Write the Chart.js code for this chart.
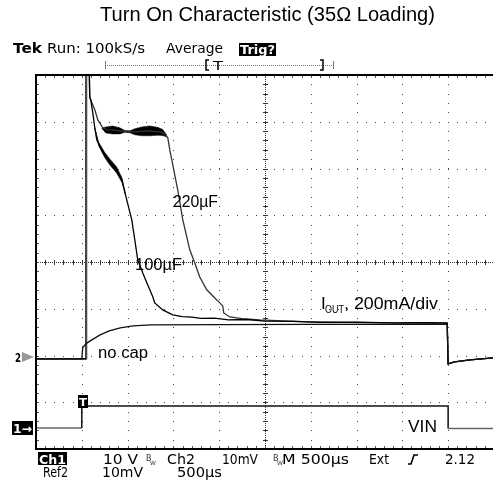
<!DOCTYPE html>
<html>
<head>
<meta charset="utf-8">
<script src="https://cdn.jsdelivr.net/npm/chart.js@4.4.1/dist/chart.umd.min.js"></script>
<style>
  html, body { margin: 0; padding: 0; background: #fff; }
  #scope { display: block; }
</style>
</head>
<body>
<canvas id="scope" width="493" height="483"></canvas>
<script>
// time in ms (500 µs/div, trigger at 0), Ch2 current in mA (200 mA/div), Ch1 VIN in V (10 V/div)
const timeNoCap = [-0.5, 0, 0.01, 0.05, 0.11, 0.2, 0.3, 0.42, 0.56, 0.75, 1.5, 2.5, 3.99, 4.0, 4.07, 4.24, 4.49];
const currentNoCap = [-8, -8, 40, 58, 73, 94, 111, 124, 133, 137, 138, 139, 140, -30, -21, -13, -4];

const time100 = [-0.5, 0.04, 0.045, 0.07, 0.087, 0.098, 0.12, 0.142, 0.164, 0.207, 0.251, 0.306, 0.382, 0.437,
  0.491, 0.546, 0.579, 0.611, 0.666, 0.71, 0.775, 0.797, 0.884, 0.993, 1.1, 1.2, 1.3, 1.45, 1.6, 1.8, 2.0,
  2.3, 2.6, 3.0, 3.4, 3.8, 3.99, 4.0, 4.07, 4.24, 4.49];
const current100 = [-8, -8, 1400, 1400, 1112, 1099, 1044, 980, 928, 894, 864, 834, 800, 757,
  672, 586, 500, 415, 359, 317, 257, 231, 201, 180, 172, 170, 165, 166, 158, 160, 153,
  152, 148, 149, 146, 147, 145, -30, -21, -13, -4];

const time220 = [-0.5, 0.05, 0.055, 0.076, 0.087, 0.098, 0.142, 0.175, 0.229, 0.284, 0.338, 0.415, 0.502,
  0.579, 0.72, 0.852, 0.906, 0.939, 0.961, 0.983, 1.015, 1.048, 1.103, 1.179, 1.234, 1.288, 1.365, 1.452,
  1.507, 1.539, 1.55, 1.616, 1.75, 1.94, 2.2, 2.5, 2.9, 3.4, 3.99, 4.0, 4.07, 4.24, 4.49];
const current220 = [-8, -8, 1400, 1400, 1112, 1099, 1057, 1014, 980, 971, 971, 967, 963,
  963, 967, 963, 954, 937, 886, 843, 779, 714, 586, 458, 402, 342, 287, 252,
  231, 218, 188, 171, 164, 158, 154, 150, 148, 146, 145, -30, -21, -13, -4];

// noisy (thick) stretches of the averaged traces: upper / lower edges
const band100Time = [0.142, 0.185, 0.25, 0.31, 0.38, 0.44, 0.48];
const band100Upper = [980, 918, 875, 845, 813, 765, 690];
const band100Lower = [980, 902, 853, 819, 787, 745, 690];

const band220Time = [0.218, 0.262, 0.338, 0.415, 0.469, 0.524, 0.579, 0.655, 0.742, 0.83, 0.884, 0.928];
const band220Upper = [978, 984, 988, 980, 969, 967, 976, 984, 988, 982, 973, 949];
const band220Lower = [978, 958, 954, 954, 961, 959, 950, 946, 946, 948, 947, 941];

const vinTime = [-0.5, 0, 0, 4.0, 4.0, 4.49];
const vinVolts = [0, 0, 4.7, 4.7, -0.1, -0.1];

// screen setup: 10 x 8 divisions, channel ground markers in divisions above the bottom edge
const mAPerDiv = 200;
const voltsPerDiv = 10;
const ch2Ground = 1.97;
const ch1Ground = 0.45;

const pts = (xs, ys) => xs.map((x, i) => ({ x, y: ys[i] }));

function fitText(ctx, str, x, y, width, font, color) {
  ctx.save();
  ctx.font = font;
  ctx.fillStyle = color;
  ctx.textBaseline = "alphabetic";
  const w = ctx.measureText(str).width;
  ctx.translate(x, y);
  if (width) ctx.scale(width / w, 1);
  ctx.fillText(str, 0, 0);
  ctx.restore();
}

const scopeScreen = {
  id: "scopeScreen",
  beforeDatasetsDraw(chart) {
    const { ctx, chartArea: a, scales: { x } } = chart;
    const left = x.getPixelForValue(-0.5);
    const divX = x.getPixelForValue(0) - left;
    const divY = (a.bottom - a.top) / 8;
    ctx.save();
    ctx.fillStyle = "#444";
    for (let i = 1; i < 10; i++) {
      if (i === 5) continue;
      const gx = Math.round(left + i * divX);
      for (let yy = a.top; yy <= a.bottom; yy += divY / 5) ctx.fillRect(gx, Math.round(yy), 1, 1);
    }
    for (let j = 1; j < 8; j++) {
      if (j === 4) continue;
      const gy = Math.round(a.top + j * divY);
      for (let xx = left; xx <= a.right; xx += divX / 5) ctx.fillRect(Math.round(xx), gy, 1, 1);
    }
    const cx = Math.round(left + 5 * divX);
    const cy = Math.round(a.top + 4 * divY);
    ctx.fillStyle = "#333";
    for (let yy = a.top; yy <= a.bottom; yy += 2) ctx.fillRect(cx, Math.round(yy), 1, 1);
    for (let xx = left; xx <= a.right; xx += 2) ctx.fillRect(Math.round(xx), cy, 1, 1);
    for (let k = 0; k <= 50; k++) ctx.fillRect(Math.round(left + k * divX / 5), cy - 2, 1, 5);
    for (let k = 0; k <= 40; k++) ctx.fillRect(cx - 2, Math.round(a.top + k * divY / 5), 5, 1);
    // small ticks just inside the frame
    ctx.fillStyle = "#555";
    for (let k = 1; k < 50; k++) {
      const tx = Math.round(left + k * divX / 5);
      ctx.fillRect(tx, a.top + 1, 1, 2);
      ctx.fillRect(tx, a.bottom - 3, 1, 2);
    }
    for (let k = 1; k < 40; k++) ctx.fillRect(a.left + 1, Math.round(a.top + k * divY / 5), 2, 1);
    ctx.restore();
  },
  afterDatasetsDraw(chart) {
    const { ctx, chartArea: a } = chart;
    const sans = "'Liberation Sans', Arial, sans-serif";
    const scope = "'DejaVu Sans', sans-serif";
    ctx.save();

    // screen frame
    ctx.strokeStyle = "#000";
    ctx.lineWidth = 2;
    ctx.beginPath();
    ctx.moveTo(a.right + 2, a.top);
    ctx.lineTo(a.left, a.top);
    ctx.lineTo(a.left, a.bottom);
    ctx.lineTo(a.right + 2, a.bottom);
    ctx.stroke();

    // title
    fitText(ctx, "Turn On Characteristic (35Ω Loading)", 100, 21, 335, `20px ${sans}`, "#000");

    // header line
    fitText(ctx, "Tek", 13, 53, 29, `bold 14px ${scope}`, "#000");
    fitText(ctx, "Run: 100kS/s", 47, 53, 98, `14px ${scope}`, "#000");
    fitText(ctx, "Average", 166, 53, 57, `14px ${scope}`, "#000");
    ctx.fillStyle = "#000";
    ctx.fillRect(239, 43, 37, 13);
    fitText(ctx, "Trig?", 240, 54, 35, `bold 13px ${scope}`, "#fff");

    // trigger position bar
    ctx.fillStyle = "#777";
    for (let xx = 105; xx <= 333; xx += 2) ctx.fillRect(xx, 65, 1, 1);
    ctx.fillRect(105, 61, 1, 8);
    ctx.fillRect(333, 61, 1, 8);
    ctx.strokeStyle = "#000";
    ctx.lineWidth = 1.5;
    ctx.beginPath();
    ctx.moveTo(209, 60); ctx.lineTo(206, 60); ctx.lineTo(206, 70); ctx.lineTo(209, 70);
    ctx.moveTo(320, 60); ctx.lineTo(323, 60); ctx.lineTo(323, 70); ctx.lineTo(320, 70);
    ctx.stroke();
    fitText(ctx, "T", 213, 70, 10, `13px ${scope}`, "#000");

    // channel markers
    fitText(ctx, "2", 15, 362, 6, `bold 12px ${scope}`, "#000");
    ctx.fillStyle = "#999";
    ctx.beginPath();
    ctx.moveTo(22, 352); ctx.lineTo(34, 357); ctx.lineTo(22, 362); ctx.closePath();
    ctx.fill();
    ctx.fillStyle = "#000";
    ctx.fillRect(12, 421, 21, 14);
    fitText(ctx, "1→", 13, 433, 19, `bold 12px ${scope}`, "#fff");
    ctx.fillStyle = "#000";
    ctx.fillRect(78, 395, 10, 13);
    fitText(ctx, "T", 79, 406, 8, `bold 11px ${scope}`, "#fff");

    // annotations
    fitText(ctx, "220µF", 173, 207, 45, `16px ${sans}`, "#000");
    fitText(ctx, "100µF", 135, 270, 47, `16px ${sans}`, "#000");
    fitText(ctx, "no cap", 98, 358, 50, `16px ${sans}`, "#000");
    fitText(ctx, "I", 321, 309, 0, `17px ${sans}`, "#000");
    fitText(ctx, "OUT", 325, 313, 19, `10px ${sans}`, "#000");
    fitText(ctx, ", 200mA/div", 344, 309, 94, `17px ${sans}`, "#000");
    fitText(ctx, "VIN", 408, 432, 29, `17px ${sans}`, "#000");

    // readout
    ctx.fillStyle = "#000";
    ctx.fillRect(38, 452, 29, 13);
    fitText(ctx, "Ch1", 39, 464, 27, `bold 13px ${scope}`, "#fff");
    fitText(ctx, "10 V", 103, 464, 35, `14px ${scope}`, "#000");
    fitText(ctx, "B", 146, 461, 0, `8px ${scope}`, "#333");
    fitText(ctx, "W", 150, 465, 0, `6px ${scope}`, "#333");
    fitText(ctx, "Ch2", 167, 464, 28, `14px ${scope}`, "#000");
    fitText(ctx, "10mV", 222, 464, 36, `14px ${scope}`, "#000");
    fitText(ctx, "B", 273, 461, 0, `8px ${scope}`, "#333");
    fitText(ctx, "W", 277, 465, 0, `6px ${scope}`, "#333");
    fitText(ctx, "M 500µs", 282, 464, 67, `14px ${scope}`, "#000");
    fitText(ctx, "Ext", 369, 464, 20, `14px ${scope}`, "#000");
    ctx.strokeStyle = "#000";
    ctx.lineWidth = 1.6;
    ctx.beginPath();
    ctx.moveTo(408, 464); ctx.lineTo(411, 464); ctx.lineTo(414, 455); ctx.lineTo(418, 455);
    ctx.stroke();
    fitText(ctx, "2.12", 445, 464, 30, `14px ${scope}`, "#000");
    fitText(ctx, "Ref2", 43, 477, 25, `14px ${scope}`, "#000");
    fitText(ctx, "10mV", 102, 477, 41, `14px ${scope}`, "#000");
    fitText(ctx, "500µs", 177, 477, 45, `14px ${scope}`, "#000");

    ctx.restore();
  },
};

const trace = (data, color, extra = {}) => ({
  data,
  borderColor: color,
  backgroundColor: color,
  borderWidth: 1.3,
  pointRadius: 0,
  tension: 0,
  fill: false,
  clip: 0,
  yAxisID: "yI",
  ...extra,
});

new Chart(document.getElementById("scope"), {
  type: "line",
  data: {
    datasets: [
      trace(pts(vinTime, vinVolts), "#111", {
        yAxisID: "yV",
        borderWidth: 1.5,
        segment: { borderColor: (c) => (c.p0.parsed.y <= 0 && c.p1.parsed.y <= 0 ? "#666" : "#111") },
      }),
      trace(pts(timeNoCap, currentNoCap), "#111"),
      trace(pts(time100, current100), "#000"),
      trace(pts(band100Time, band100Upper), "#000", { borderWidth: 0.5 }),
      trace(pts(band100Time, band100Lower), "#000", { borderWidth: 0.5, fill: "-1" }),
      trace(pts(time220, current220), "#333", {
        segment: { borderColor: (c) => (c.p0DataIndex === 1 ? "#999" : "#333") },
      }),
      trace(pts(band220Time, band220Upper), "#000", { borderWidth: 0.5 }),
      trace(pts(band220Time, band220Lower), "#000", { borderWidth: 0.5, fill: "-1" }),
    ],
  },
  options: {
    responsive: false,
    animation: false,
    events: [],
    layout: { padding: { left: 36, top: 75, right: 0, bottom: 34 } },
    plugins: { legend: { display: false }, tooltip: { enabled: false } },
    scales: {
      x: { type: "linear", min: -0.5, max: 4.49, display: false },
      yI: { type: "linear", min: -ch2Ground * mAPerDiv, max: (8 - ch2Ground) * mAPerDiv, display: false },
      yV: { type: "linear", min: -ch1Ground * voltsPerDiv, max: (8 - ch1Ground) * voltsPerDiv, display: false },
    },
  },
  plugins: [scopeScreen],
});
</script>
</body>
</html>
